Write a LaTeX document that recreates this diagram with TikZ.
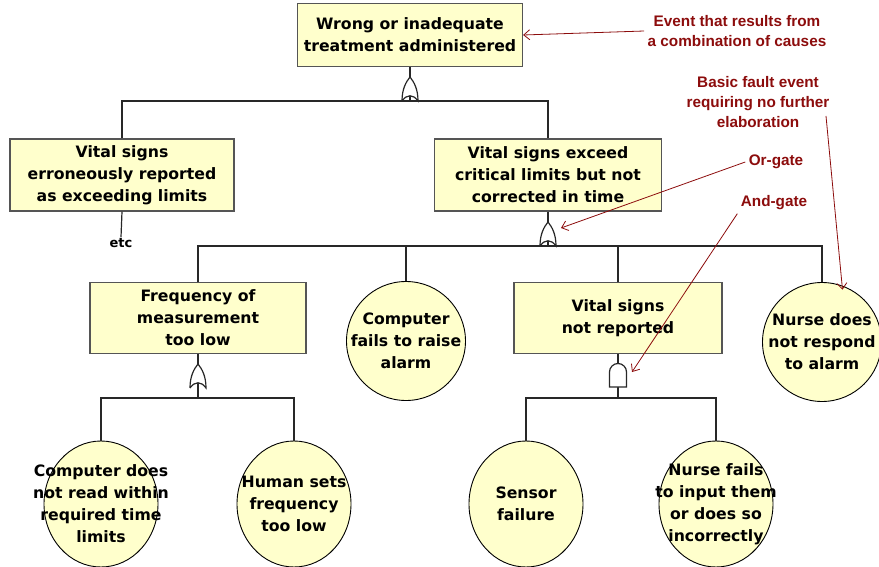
\documentclass[tikz,border=0pt]{standalone}
\usepackage{fontspec}
\usepackage{tikz}
\usetikzlibrary{shapes.geometric,arrows.meta}
\newfontfamily\evfamily{DejaVu Sans}
\newfontfamily\notefamily{Liberation Sans}
\definecolor{evfill}{RGB}{255,255,204}
\definecolor{evline}{RGB}{85,85,85}
\definecolor{wiregray}{RGB}{40,40,40}
\definecolor{notered}{RGB}{140,12,12}
\newcommand\oneline[1]{\makebox[0pt]{#1}}
\tikzset{
  wire/.style={wiregray, line width=1.2pt},
  event/.style={draw=evline, fill=evfill, line width=1.2pt, align=center,
    font=\evfamily\bfseries\fontsize{15.7}{22}\selectfont, minimum height=72pt},
  basic/.style={draw=black, fill=evfill, line width=0.9pt, circle, inner sep=0pt,
    minimum size=119pt, align=center, font=\evfamily\bfseries\fontsize{15.7}{22}\selectfont},
  leaf/.style={draw=black, fill=evfill, line width=0.9pt, ellipse, inner sep=0pt,
    minimum width=114pt, minimum height=126pt, align=center,
    font=\evfamily\bfseries\fontsize{15.7}{22}\selectfont},
  note/.style={text=notered, align=center, font=\notefamily\bfseries\fontsize{15.3}{20}\selectfont},
  pointer/.style={notered, line width=0.8pt, -{Straight Barb[length=6pt,width=10pt]}},
  orgate/.pic={\draw[wire, fill=white] (-8,0) .. controls (-8,-12) and (-4,-19) .. (0,-24)
    .. controls (4,-19) and (8,-12) .. (8,0) .. controls (3,-7) and (-3,-7) .. (-8,0);},
  andgate/.pic={\draw[wire, fill=white] (-8.5,0) -- (-8.5,-15) arc (180:360:8.5) -- (8.5,0) -- cycle;}
}

\begin{document}
\begin{tikzpicture}[x=1pt,y=-1pt]
    \useasboundingbox (0,0) rectangle (879,567);

    \node[event, minimum width=225pt, minimum height=63pt] (top) at (410,35) {Wrong or inadequate\\treatment administered};
    \node[event, minimum width=224pt] (erron) at (122,175) {Vital signs\\erroneously reported\\as exceeding limits};
    \node[event, minimum width=227pt] (exceed) at (548,175) {Vital signs exceed\\critical limits but not\\corrected in time};
    \node[font=\evfamily\bfseries\fontsize{13}{15}\selectfont, inner sep=1pt] (etc) at (121,243) {etc};

    \node[event, minimum width=216pt, minimum height=71pt] (freq) at (198,318) {Frequency of\\measurement\\too low};
    \node[basic] (noalarm) at (406,341) {\oneline{Computer}\\\oneline{fails to raise}\\\oneline{alarm}};
    \node[event, minimum width=208pt, minimum height=71pt] (notrep) at (618,318) {Vital signs\\not reported};
    \node[basic] (noresp) at (822,342) {\oneline{Nurse does}\\\oneline{not respond}\\\oneline{to alarm}};

    \node[leaf] (noread) at (101,504) {\oneline{Computer does}\\\oneline{not read within}\\\oneline{required time}\\\oneline{limits}};
    \node[leaf] (human) at (294,504) {\oneline{Human sets}\\\oneline{frequency}\\\oneline{too low}};
    \node[leaf] (sensor) at (526,504) {\oneline{Sensor}\\\oneline{failure}};
    \node[leaf] (noinput) at (716,504) {\oneline{Nurse fails}\\\oneline{to input them}\\\oneline{or does so}\\\oneline{incorrectly}};

    % gates and wiring
    \coordinate (orTop) at (410,101);
    \draw[wire] (top.south) -- (orTop);
    \draw[wire] (erron.north) |- (orTop) -| (exceed.north);
    \draw[wire] (erron.south) -- (etc.north);
    \pic at (orTop) {orgate};

    \coordinate (orExceed) at (548,246);
    \draw[wire] (exceed.south) -- (orExceed);
    \draw[wire] (freq.north) |- (orExceed) -| (noresp.north);
    \draw[wire] (noalarm.north) -- (noalarm.north |- orExceed);
    \draw[wire] (notrep.north) -- (notrep.north |- orExceed);
    \pic at (orExceed) {orgate};

    \coordinate (orFreq) at (198,388);
    \coordinate (busFreq) at (198,398);
    \draw[wire] (freq.south) -- (busFreq);
    \draw[wire] (noread.north) |- (busFreq) -| (human.north);
    \pic at (orFreq) {orgate};

    \coordinate (andRep) at (618,387);
    \coordinate (busRep) at (618,398);
    \draw[wire] (notrep.south) -- (busRep);
    \draw[wire] (sensor.north) |- (busRep) -| (noinput.north);
    \pic at (andRep) {andgate};

    % annotations
    \node[note] (nCombo) at (737,31) {Event that results from\\a combination of causes};
    \node[note] (nBasic) at (758,102) {Basic fault event\\requiring no further\\elaboration};
    \node[note] (nOr) at (776,162) {Or-gate};
    \node[note] (nAnd) at (774,203) {And-gate};
    \coordinate (bTail) at (826,116);
    \coordinate (orTip) at (561,228);
    \coordinate (andTip) at (632,372);
    \draw[pointer] (nCombo.west) -- (top.east);
    \draw[pointer] (bTail) -- ([yshift=-4pt]noresp.70);
    \draw[pointer] (nOr.west) -- (orTip);
    \draw[pointer] (nAnd.south west) -- (andTip);
\end{tikzpicture}
\end{document}
